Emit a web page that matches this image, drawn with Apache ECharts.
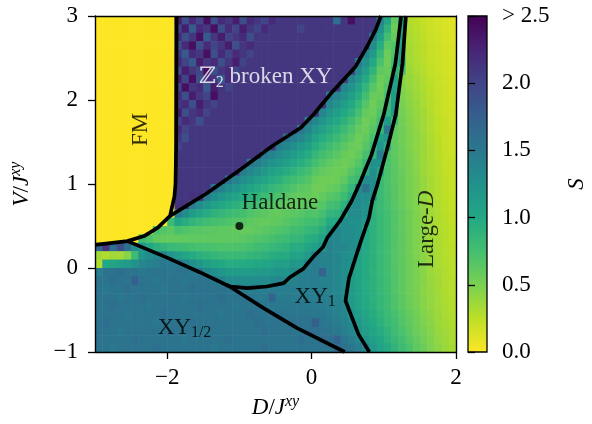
<!DOCTYPE html>
<html>
<head>
<meta charset="utf-8">
<script src="https://cdn.jsdelivr.net/npm/echarts@6.0.0/dist/echarts.min.js"></script>
<style>
  html, body { margin: 0; padding: 0; background: #fff; }
  #chart { width: 592px; height: 424px; }
</style>
</head>
<body>
<div id="chart"></div>
<script>
// cell centres of the entanglement entropy map (D/J^xy across, V/J^xy down from the top)
const dCenters = [-2.95, -2.85, -2.75, -2.65, -2.55, -2.45, -2.35, -2.25, -2.15, -2.05,
  -1.95, -1.85, -1.75, -1.65, -1.55, -1.45, -1.35, -1.25, -1.15, -1.05,
  -0.95, -0.85, -0.75, -0.65, -0.55, -0.45, -0.35, -0.25, -0.15, -0.05,
  0.05, 0.15, 0.25, 0.35, 0.45, 0.55, 0.65, 0.75, 0.85, 0.95,
  1.05, 1.15, 1.25, 1.35, 1.45, 1.55, 1.65, 1.75, 1.85, 1.95];
const vCenters = [2.95, 2.85, 2.75, 2.65, 2.55, 2.45, 2.35, 2.25, 2.15, 2.05,
  1.95, 1.85, 1.75, 1.65, 1.55, 1.45, 1.35, 1.25, 1.15, 1.05,
  0.95, 0.85, 0.75, 0.65, 0.55, 0.45, 0.35, 0.25, 0.15, 0.05,
  -0.05, -0.15, -0.25, -0.35, -0.45, -0.55, -0.65, -0.75, -0.85, -0.95];

// S, one row per vCenters entry
const sRows = [
  [0,0,0,0,0,0,0,0,0,0,0, 2.3,1.9,2.2,2.0,2.4,1.9,2.2,2.1,2.3,1.9,2.2,2.1,2.0,2.2, 2.1,2.1,2.1,2.1,2.1,2.1,2.1,2.1,1.6,2.1,2.4,2.1,2.1,2.1, 1.4,1.04,0.61, 1.0, 0.30,0.26,0.23,0.19,0.16,0.14,0.12],
  [0,0,0,0,0,0,0,0,0,0,0, 2.0,2.3,1.8,2.2,2.1,2.4,1.9,2.2,2.0,2.3,2.1,2.0,2.2,2.1, 2.1,2.1,2.1,2.0,2.1,2.1,2.1,2.1,2.1,2.1,2.1,2.1,2.1,2.1, 1.27,0.89,0.55, 1.0, 0.31,0.28,0.24,0.2,0.17,0.14,0.13],
  [0,0,0,0,0,0,0,0,0,0,0, 2.2,1.9,2.1,2.4,1.8,2.1,2.3,2.0,2.1,2.2,1.9,2.1, 2.1,2.1,2.1,2.1,2.1,2.1,2.1,2.1,2.1,2.1,2.1,2.1,2.1,2.1,2.1, 1.48,1.12,0.76,0.6, 1.05, 0.33,0.29,0.25,0.21,0.18,0.15,0.13],
  [0,0,0,0,0,0,0,0,0,0,0, 1.9,2.2,2.4,1.9,2.2,2.0,2.1,2.3,1.9,2.1,2.2, 2.1,2.1,2.1,2.1,2.1,2.1,2.1,2.1,2.1,2.1,2.1,2.1,2.1,2.1,2.1,2.1, 1.29,0.97,0.64,0.7, 1.05, 0.34,0.3,0.26,0.22,0.19,0.16,0.14],
  [0,0,0,0,0,0,0,0,0,0,0, 2.1,1.8,2.2,2.1,2.4,1.9,2.2,2.0,2.2,2.1,2.0, 2.1,2.1,2.1,2.1,2.1,2.1,2.1,2.1,2.1,2.1,2.1,2.1,2.1,2.1,2.1, 1.4,1.15,0.84,0.56,0.7, 1.1, 0.35,0.3,0.26,0.22,0.19,0.16,0.14],
  [0,0,0,0,0,0,0,0,0,0,0, 2.2,2.0,1.8,2.3,2.1,2.2,1.9,2.1,2.3,2.0, 2.1,2.1,2.1,2.1,2.1,2.1,2.1,2.1,2.1,2.1,2.1,2.1,2.1,2.1,2.1, 1.49,1.25,1.0,0.72,0.56,0.79, 1.1, 0.36,0.31,0.27,0.23,0.2,0.17,0.15],
  [0,0,0,0,0,0,0,0,0,0,0, 1.9,2.3,2.1,2.0,2.4,1.9,2.1,2.2,2.0,2.1, 2.1,2.1,2.1,2.1,2.1,2.1,2.1,2.1,2.1,2.1,2.1,2.1,2.1,2.1,2.1, 1.34,1.12,0.88,0.63,0.59,0.9, 0.8, 0.38,0.33,0.28,0.24,0.2,0.17,0.15],
  [0,0,0,0,0,0,0,0,0,0,0, 2.3,2.0,2.4,1.9,2.2,2.1,1.8,2.2, 2.1,2.1,2.1,2.1,2.1,2.1,2.1,2.1,2.1,2.1,2.1,2.1,2.1,2.1,2.1,2.1, 1.38,1.2,0.99,0.76,0.57,0.63, 1.1, 0.45,0.4,0.35,0.3,0.25,0.21,0.18,0.16],
  [0,0,0,0,0,0,0,0,0,0,0, 2.0,2.4,2.1,2.2,1.8,2.3,2.1,2.0, 2.1,2.1,2.1,2.1,2.1,2.1,2.1,2.1,2.1,2.1,2.1,2.1,2.1,2.1,2.1, 1.36,1.24,1.07,0.87,0.66,0.56,0.68, 1.1, 0.47,0.41,0.36,0.31,0.26,0.22,0.19,0.16],
  [0,0,0,0,0,0,0,0,0,0,0, 2.2,1.9,2.3,2.1,2.0,2.4,2.1, 2.1,2.1,2.1,2.1,2.1,2.1,2.1,2.1,2.1,2.1,2.1,2.1,2.1,2.1, 1.49,1.36,1.24,1.12,0.95,0.76,0.59,0.59,0.74, 1.15, 0.49,0.43,0.38,0.32,0.27,0.23,0.19,0.17],
  [0,0,0,0,0,0,0,0,0,0,0, 2.1,2.2,1.9,2.3,2.1,2.0, 2.1,2.1,2.1,2.1,2.1,2.1,2.1,2.1,2.1,2.1,2.1,2.1,2.1,2.1,2.1, 1.35,1.24,1.12,1.0,0.85,0.68,0.55,0.64,0.81, 1.15, 0.51,0.44,0.39,0.33,0.28,0.24,0.2,0.17],
  [0,0,0,0,0,0,0,0,0,0,0, 2.3,1.9,2.1,2.2,2.0, 2.1,2.1,2.1,2.1,2.1,2.1,2.1,2.1,2.1,2.1,2.1,2.1,2.1,2.1,2.1, 1.35,1.22,1.12,1.0,0.9,0.75,0.6,0.57,0.7,0.85, 1.15, 0.53,0.46,0.4,0.35,0.29,0.24,0.2,0.18],
  [0,0,0,0,0,0,0,0,0,0,0, 2.0,2.2,2.1,1.9, 2.1,2.1,2.1,2.1,2.1,2.1,2.1,2.1,2.1,2.1,2.1,2.1,2.1,2.1, 1.53,1.35,1.22,1.1,1.0,0.9,0.79,0.66,0.55,0.61,0.76, 1.15, 0.8, 0.54,0.47,0.41,0.36,0.3,0.25,0.21,0.18],
  [0,0,0,0,0,0,0,0,0,0,0, 2.2,2.0, 2.1,2.1,2.1,2.1,2.1,2.1,2.1,2.1,2.1,2.1,2.1,2.1,2.1,2.1,2.1, 1.52,1.38,1.2,1.08,0.98,0.9,0.81,0.71,0.6,0.57,0.67,0.83, 1.5, 0.62,0.55,0.48,0.42,0.36,0.3,0.25,0.21,0.19],
  [0,0,0,0,0,0,0,0,0,0,0, 2.1,1.9, 2.1,2.1,2.1,2.1,2.1,2.1,2.1,2.1,2.1,2.1,2.1,2.1,2.1, 1.54,1.44,1.36,1.23,1.07,0.97,0.89,0.81,0.72,0.64,0.56,0.61,0.73, 1.1, 1.2, 0.62,0.55,0.49,0.43,0.37,0.31,0.26,0.22,0.19],
  [0,0,0,0,0,0,0,0,0,0,0, 2.0, 2.1,2.1,2.1,2.1,2.1,2.1,2.1,2.1,2.1,2.1,2.1,2.1,2.1, 1.46,1.37,1.28,1.2,1.1,0.96,0.86,0.79,0.72,0.65,0.58,0.57,0.67,0.8, 1.2, 0.95, 0.63,0.56,0.49,0.43,0.38,0.32,0.27,0.22,0.2],
  [0,0,0,0,0,0,0,0,0,0,0, 2.1,2.1,2.1,2.1,2.1,2.1,2.1,2.1,2.1,2.1,2.1,2.1, 1.48,1.39,1.3,1.22,1.13,1.06,0.97,0.85,0.76,0.71,0.65,0.59,0.55,0.61,0.74,0.88, 1.45, 0.71,0.63,0.57,0.5,0.44,0.37,0.32,0.27,0.23,0.2],
  [0,0,0,0,0,0,0,0,0,0,0, 2.1,2.1,2.1,2.1,2.1,2.1,2.1,2.1,2.1,2.1, 1.54,1.43,1.32,1.23,1.17,1.09,1.0,0.94,0.86,0.75,0.68,0.63,0.59,0.56,0.59,0.67,0.82, 1.25,1.25, 0.72,0.64,0.57,0.51,0.44,0.38,0.33,0.28,0.23,0.21],
  [0,0,0,0,0,0,0,0,0,0,0, 2.1,2.1,2.1,2.1,2.1,2.1,2.1,2.1,2.1, 1.46,1.36,1.27,1.17,1.1,1.03,0.96,0.89,0.82,0.76,0.66,0.61,0.58,0.56,0.57,0.66,0.75,0.95, 1.3, 1.05, 0.72,0.65,0.58,0.52,0.45,0.38,0.33,0.28,0.24,0.21],
  [0,0,0,0,0,0,0,0,0,0,0, 2.1,2.1,2.1,2.1,2.1,2.1,2.1, 1.51,1.4,1.29,1.2,1.12,1.04,0.97,0.91,0.84,0.78,0.73,0.68,0.59,0.56,0.55,0.57,0.63,0.75,0.83, 1.3,1.3, 0.8,0.72,0.65,0.59,0.52,0.46,0.39,0.34,0.29,0.25,0.22],
  [0,0,0,0,0,0,0,0,0,0,0, 2.1,2.1,2.1,2.1,2.1, 1.55,1.41,1.3,1.22,1.13,1.05,0.98,0.92,0.85,0.8,0.74,0.69,0.65,0.62,0.55,0.56,0.59,0.63,0.71,0.85, 1.3,1.55,1.3, 0.81,0.73,0.66,0.59,0.52,0.46,0.4,0.34,0.29,0.25,0.22],
  [0,0,0,0,0,0,0,0,0,0,0, 2.1,2.1,2.15,2.15, 1.44,1.3,1.2,1.12,1.05,0.99,0.92,0.86,0.8,0.75,0.71,0.66,0.62,0.6,0.6,0.57,0.61,0.66,0.7,0.8,0.97, 1.3,1.3,1.25, 0.81,0.73,0.66,0.59,0.53,0.47,0.4,0.34,0.29,0.25,0.23],
  [0,0,0,0,0,0,0,0,0,0,0, 2.15,2.15, 1.45,1.3,1.19,1.09,1.02,0.96,0.91,0.86,0.8,0.76,0.71,0.67,0.64,0.61,0.6,0.62,0.64,0.62,0.67,0.75,0.79,0.92, 1.3,1.3,1.25, 0.89,0.81,0.74,0.67,0.6,0.53,0.47,0.41,0.35,0.3,0.26,0.23],
  [0,0,0,0,0,0,0,0,0,0,0, 1.46,1.28,1.13,1.04,0.97,0.9,0.86,0.81,0.78,0.75,0.7,0.66,0.64,0.61,0.6,0.62,0.64,0.67,0.7,0.69,0.75,0.87,0.89,1.04, 1.3,1.3,1.25, 0.91,0.83,0.76,0.69,0.62,0.55,0.48,0.42,0.36,0.31,0.26,0.24],
  [0,0,0,0,0,0,0,0,0,0, 0.8,1.04,0.95,0.87,0.82,0.78,0.75,0.73,0.7,0.68,0.66,0.63,0.61,0.6,0.61,0.63,0.66,0.7,0.72,0.76,0.77,0.84,0.99,1.0, 1.3,1.25,1.25,1.2, 0.91,0.83,0.76,0.69,0.61,0.55,0.48,0.42,0.36,0.31,0.27,0.24],
  [0,0,0,0,0,0,0,0, 0.73,0.68,0.65,0.73,0.7,0.67,0.66,0.65,0.64,0.63,0.62,0.61,0.6,0.6,0.62,0.64,0.67,0.7,0.72,0.77,0.79,0.85,0.87,0.95,1.12, 1.35,1.3,1.3,1.25, 0.99,0.91,0.83,0.76,0.68,0.62,0.55,0.48,0.43,0.37,0.31,0.28,0.25],
  [0,0,0,0,0,0, 0.8,0.72,0.62,0.6,0.6,0.61,0.61,0.62,0.62,0.62,0.62,0.62,0.62,0.63,0.64,0.66,0.69,0.71,0.74,0.78,0.8,0.86,0.87,0.94,0.97,1.07, 1.35,1.35,1.3,1.3,1.25, 0.99,0.91,0.84,0.76,0.69,0.62,0.55,0.48,0.43,0.37,0.32,0.28,0.25],
  [1.7,2.1,1.6,1.9,1.6,1.3, 1.2,1.02,0.93,0.88,0.83,0.8,0.78,0.76,0.74,0.73,0.72,0.71,0.71,0.71,0.72,0.74,0.78,0.8,0.84,0.87,0.89,0.96,0.96,1.04,1.09,1.2, 1.4,1.35,1.35,1.3,1.25, 0.99,0.91,0.83,0.76,0.68,0.62,0.55,0.49,0.43,0.38,0.32,0.28,0.26],
  [0.35,0.3,0.35,0.35,0.45,0.8,1.2,1.3,1.35, 1.4,1.22,1.11,1.04,0.98,0.93,0.89,0.86,0.84,0.82,0.82,0.83,0.86,0.88,0.91,0.95,0.98,0.98,1.07,1.06,1.15, 1.4,1.4,1.4,1.35,1.3,1.25, 1.07,0.98,0.91,0.83,0.76,0.68,0.63,0.55,0.49,0.43,0.38,0.33,0.28,0.26],
  [0.3,1.0,1.05,1.1,1.15,1.25,1.35,1.4,1.45,1.5,1.5,1.5, 1.37,1.26,1.18,1.1,1.04,1.01,0.97,0.97,0.98,0.99,1.01,1.03,1.07,1.11,1.1,1.19,1.17, 1.4,1.45,1.4,1.4,1.35,1.3,1.25, 1.07,0.98,0.91,0.83,0.76,0.68,0.62,0.56,0.5,0.44,0.39,0.33,0.29,0.27],
  [1.45,1.55,1.55,1.6,1.55,1.55,1.5,1.55,1.55,1.55,1.5,1.55,1.55,1.5,1.5, 1.34,1.26,1.2,1.14,1.13,1.13,1.13,1.15,1.17,1.2,1.23,1.21,1.3, 1.4,1.45,1.45,1.7,1.4,1.35,1.3, 1.15,1.06,0.98,0.9,0.83,0.76,0.69,0.63,0.56,0.5,0.44,0.38,0.34,0.3,0.27],
  [1.55,1.55,1.6,1.55,1.55,1.75,1.55,1.55,1.5,1.55,1.55,1.55,1.5,1.55,1.55,1.55,1.5, 1.4,1.32,1.31,1.3,1.29,1.3,1.32,1.33,1.36,1.34, 1.4,1.45,1.45,1.45,1.4,1.4,1.35,1.3, 1.13,1.05,0.98,0.91,0.84,0.77,0.7,0.63,0.56,0.5,0.45,0.39,0.35,0.3,0.28],
  [1.55,1.5,1.55,1.55,1.6,1.55,1.55,1.55,1.55,1.5,1.55,1.55,1.55,1.6,1.55,1.55,1.55,1.55,1.55, 1.5,1.48,1.45,1.45,1.45,1.45,1.45,1.45,1.45,1.45,1.45,1.45,1.42,1.4,1.35,1.3, 1.14,1.05,0.97,0.91,0.84,0.77,0.69,0.63,0.56,0.51,0.44,0.4,0.35,0.31,0.28],
  [1.55,1.55,1.55,1.5,1.55,1.55,1.6,1.55,1.55,1.55,1.55,1.55,1.5,1.55,1.55,1.55,1.55,1.6,1.55,1.55,1.55, 1.5,1.48,1.48,1.7,1.47,1.47,1.47,1.47,1.46,1.45,1.44,1.42,1.38,1.32, 1.15,1.07,0.99,0.92,0.85,0.78,0.71,0.64,0.57,0.51,0.45,0.4,0.36,0.31,0.29],
  [1.55,1.55,1.6,1.55,1.55,1.55,1.55,1.5,1.55,1.55,1.55,1.55,1.55,1.55,1.6,1.55,1.55,1.55,1.55,1.5,1.55,1.55,1.55, 1.52,1.5,1.5,1.5,1.5,1.5,1.48,1.48,1.46,1.44,1.4,1.34, 1.15,1.07,0.99,0.93,0.85,0.78,0.71,0.65,0.57,0.52,0.45,0.41,0.36,0.32,0.29],
  [1.55,1.55,1.55,1.55,1.5,1.55,1.55,1.55,1.55,1.6,1.55,1.55,1.55,1.55,1.55,1.55,1.55,1.5,1.55,1.55,1.55,1.6,1.55,1.55,1.55, 1.55,1.53,1.52,1.52,1.52,1.5,1.5,1.47,1.42,1.35, 1.2,1.12,1.04,0.96,0.88,0.81,0.74,0.67,0.6,0.54,0.47,0.42,0.37,0.33,0.3],
  [1.55,1.6,1.55,1.55,1.55,1.55,1.55,1.55,1.5,1.55,1.55,1.55,1.55,1.6,1.55,1.55,1.55,1.55,1.55,1.55,1.55,1.55,1.6,1.55,1.55,1.55,1.55, 1.58,1.56,1.55,1.75,1.52,1.5,1.46,1.4,1.33, 1.17,1.07,1.0,0.91,0.84,0.77,0.69,0.62,0.56,0.49,0.44,0.38,0.34,0.31],
  [1.55,1.55,1.55,1.5,1.55,1.55,1.55,1.55,1.55,1.55,1.6,1.55,1.55,1.55,1.55,1.5,1.55,1.55,1.55,1.55,1.55,1.55,1.55,1.6,1.55,1.55,1.55,1.55,1.55, 1.6,1.58,1.56,1.54,1.5,1.44,1.36, 1.21,1.12,1.04,0.96,0.88,0.79,0.72,0.65,0.57,0.51,0.46,0.39,0.36,0.32],
  [1.55,1.55,1.55,1.55,1.55,1.6,1.55,1.55,1.55,1.55,1.55,1.55,1.5,1.55,1.55,1.55,1.55,1.55,1.6,1.55,1.55,1.55,1.55,1.55,1.55,1.55,1.55,1.55,1.6,1.55,1.55, 1.62,1.6,1.7,1.52,1.45,1.36, 1.19,1.09,1.01,0.92,0.84,0.76,0.68,0.6,0.54,0.47,0.41,0.37,0.33],
  [1.55,1.55,1.5,1.55,1.55,1.55,1.55,1.55,1.6,1.55,1.55,1.55,1.55,1.55,1.55,1.55,1.5,1.55,1.55,1.55,1.55,1.55,1.55,1.6,1.55,1.55,1.55,1.55,1.55,1.55,1.55,1.55,1.55, 1.62,1.58,1.52,1.44,1.35, 1.17,1.07,0.98,0.89,0.8,0.72,0.63,0.57,0.49,0.43,0.38,0.34]
];

// phase boundaries as (D, V) points
const fmEdge = [[-1.87, 3.0], [-1.875, 1.5], [-1.885, 1.0], [-1.9, 0.85], [-1.94, 0.7], [-1.96, 0.62],
  [-2.13, 0.48], [-2.32, 0.38], [-2.55, 0.32], [-3.0, 0.275]];
const z2Edge = [[-1.96, 0.62], [-1.45, 0.89], [-0.99, 1.17], [-0.55, 1.45], [-0.15, 1.67], [0.03, 1.83],
  [0.26, 2.07], [0.61, 2.4], [0.77, 2.64], [0.89, 2.84], [0.96, 3.0]];
const haldaneEdge = [[1.24, 3.0], [1.16, 2.43], [1.0, 1.83], [0.83, 1.35], [0.657, 0.99], [0.556, 0.8],
  [0.393, 0.56], [0.217, 0.36], [0.16, 0.25], [0.03, 0.14], [-0.117, -0.01], [-0.3, -0.11],
  [-0.385, -0.18], [-0.62, -0.22], [-0.89, -0.24], [-1.125, -0.22], [-1.19, -0.2]];
const largeDEdge = [[1.306, 3.0], [1.258, 2.43], [1.167, 1.83], [1.05, 1.43], [0.911, 0.99], [0.84, 0.8],
  [0.796, 0.6], [0.671, 0.29], [0.518, -0.12], [0.47, -0.39], [0.564, -0.6], [0.65, -0.79], [0.8, -1.0]];
const xyHalfEdge = [[-2.55, 0.32], [-2.01, 0.126], [-1.55, -0.05], [-1.135, -0.22], [-0.66, -0.48],
  [-0.2, -0.715], [0.46, -1.0]];
const markedPoint = [[-1.0, 0.5]];

const xTicks = [-2, 0, 2];
const sMax = 2.5;

const CELL = 0.1;
const FONT = '"Liberation Serif", "DejaVu Serif", serif';
const viridisR = ["#fde725", "#bddf26", "#7ad151", "#44bf70", "#22a884", "#21918c",
  "#2a788e", "#355f8d", "#414487", "#482475", "#440154"];

const cells = [];
sRows.forEach((row, r) => {
  if (row.length !== dCenters.length) console.warn("row", r, "has", row.length);
  row.forEach((s, c) => cells.push([dCenters[c], vCenters[r], s]));
});

const txt = { fontFamily: FONT, fontSize: 23, color: "#000" };
const ital = { fontFamily: FONT, fontSize: 23, fontStyle: "italic", color: "#000" };
const sub = { fontFamily: FONT, fontSize: 16, color: "#000", padding: [11, 0, 0, 0] };
const sup = { fontFamily: FONT, fontSize: 16, fontStyle: "italic", color: "#000", padding: [0, 0, 11, 0] };
const minus = (v) => (v < 0 ? "\u2212" + Math.abs(v) : String(v));

function renderCell(params, api) {
  const d = api.value(0);
  const v = api.value(1);
  const p0 = api.coord([d - CELL / 2, v + CELL / 2]);
  const p1 = api.coord([d + CELL / 2, v - CELL / 2]);
  return {
    type: "rect",
    shape: { x: p0[0], y: p0[1], width: p1[0] - p0[0] + 0.6, height: p1[1] - p0[1] + 0.6 },
    style: { fill: api.visual("color") },
  };
}

function renderBar(params, api) {
  const p0 = api.coord([0, sMax]);
  const p1 = api.coord([1, 0]);
  const stops = viridisR.map((c, k) => ({ offset: 1 - k / (viridisR.length - 1), color: c })).reverse();
  return {
    type: "rect",
    shape: { x: p0[0], y: p0[1], width: p1[0] - p0[0], height: p1[1] - p0[1] },
    style: {
      fill: new echarts.graphic.LinearGradient(0, 0, 0, 1, stops),
      stroke: "#000",
      lineWidth: 1.3,
    },
  };
}

function boundary(data) {
  return {
    type: "line",
    data,
    showSymbol: false,
    symbol: "none",
    clip: true,
    lineStyle: { color: "#000", width: 3.7, join: "round", cap: "butt" },
    z: 5,
    silent: true,
  };
}

const regionLabels = [
  { value: [-2.37, 1.65], label: { formatter: "FM", rotate: 90 } },
  { value: [-0.635, 2.27], label: { formatter: "{w|\u2124}{ws|2}{w| broken XY}" } },
  { value: [-0.44, 0.78], label: { formatter: "Haldane" } },
  { value: [0.05, -0.34], label: { formatter: "{t|XY}{s|1}" } },
  { value: [-1.76, -0.71], label: { formatter: "{t|XY}{s|1/2}" } },
  { value: [1.6, 0.46], label: { formatter: "{t|Large-}{i|D}", rotate: 90 } },
];

const chart = echarts.init(document.getElementById("chart"));
chart.setOption({
  animation: false,
  backgroundColor: "#fff",
  grid: [
    { left: 95, top: 16, width: 361, height: 336 },
    { left: 468, top: 16, width: 19, height: 336 },
  ],
  visualMap: {
    type: "continuous",
    show: false,
    min: 0,
    max: sMax,
    dimension: 2,
    seriesIndex: 0,
    inRange: { color: viridisR },
  },
  xAxis: [
    {
      type: "value", gridIndex: 0, min: -3, max: 2, position: "bottom", z: 10,
      axisLine: { onZero: false, lineStyle: { color: "#000", width: 1.4 } },
      axisTick: { inside: false, length: 7, customValues: xTicks, lineStyle: { color: "#000", width: 1.3 } },
      axisLabel: { customValues: xTicks, margin: 14, formatter: minus, ...txt },
      splitLine: { show: false },
      name: "{i|D}{t|/}{i|J}{p|xy}",
      nameLocation: "middle",
      nameGap: 42,
      nameTextStyle: { rich: { i: ital, t: txt, p: sup } },
    },
    {
      type: "value", gridIndex: 0, min: -3, max: 2, position: "top", z: 10,
      axisLine: { onZero: false, lineStyle: { color: "#000", width: 1.4 } },
      axisTick: { show: false }, axisLabel: { show: false }, splitLine: { show: false },
    },
    { type: "value", gridIndex: 1, min: 0, max: 1, show: false },
  ],
  yAxis: [
    {
      type: "value", gridIndex: 0, min: -1, max: 3, interval: 1, position: "left", z: 10,
      axisLine: { onZero: false, lineStyle: { color: "#000", width: 1.4 } },
      axisTick: { inside: false, length: 7, lineStyle: { color: "#000", width: 1.3 } },
      axisLabel: { margin: 17, formatter: minus, ...txt },
      splitLine: { show: false },
      name: "{i|V}{t|/}{i|J}{p|xy}",
      nameLocation: "middle",
      nameRotate: 90,
      nameGap: 60,
      nameTextStyle: { rich: { i: ital, t: txt, p: sup } },
    },
    {
      type: "value", gridIndex: 0, min: -1, max: 3, position: "right", z: 10,
      axisLine: { onZero: false, lineStyle: { color: "#000", width: 1.4 } },
      axisTick: { show: false }, axisLabel: { show: false }, splitLine: { show: false },
    },
    {
      type: "value", gridIndex: 1, min: 0, max: sMax, interval: 0.5, position: "right", z: 10,
      axisLine: { show: false },
      axisTick: { inside: false, length: 7, lineStyle: { color: "#000", width: 1.3 } },
      axisLabel: { margin: 15, formatter: (v) => (v === sMax ? "> 2.5" : v.toFixed(1)), ...txt },
      splitLine: { show: false },
      name: "S",
      nameLocation: "middle",
      nameRotate: 90,
      nameGap: 78,
      nameTextStyle: { ...ital },
    },
  ],
  series: [
    {
      type: "custom",
      xAxisIndex: 0,
      yAxisIndex: 0,
      renderItem: renderCell,
      data: cells,
      clip: true,
      silent: true,
      z: 1,
    },
    boundary(fmEdge),
    boundary(z2Edge),
    boundary(haldaneEdge),
    boundary(largeDEdge),
    boundary(xyHalfEdge),
    {
      type: "scatter",
      data: markedPoint,
      symbolSize: 8,
      itemStyle: { color: "#000" },
      z: 6,
      silent: true,
    },
    {
      type: "scatter",
      data: regionLabels,
      symbolSize: 1,
      itemStyle: { color: "rgba(0,0,0,0)" },
      z: 20,
      silent: true,
      label: {
        show: true,
        position: "inside",
        ...txt,
        rich: {
          t: txt,
          s: sub,
          i: ital,
          w: { ...txt, color: "#fff" },
          ws: { ...sub, color: "#fff" },
        },
      },
    },
    {
      type: "custom",
      xAxisIndex: 2,
      yAxisIndex: 2,
      renderItem: renderBar,
      data: [[0]],
      silent: true,
    },
  ],
});
</script>
</body>
</html>
